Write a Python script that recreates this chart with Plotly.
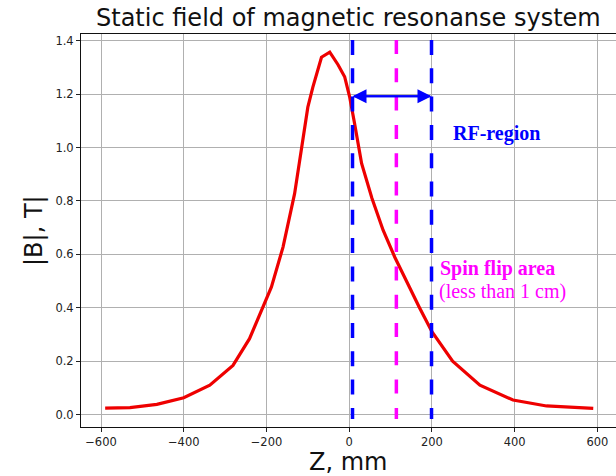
import plotly.graph_objects as go

# ---- data ----
z_mm = [-590, -530, -465, -400, -337, -281, -241, -204, -188, -160, -132, -116, -100, -88,
        -67, -47, -27, -11, 1, 13, 30, 55, 82, 110, 138, 170, 200, 250, 316, 396, 477, 590]
b_tesla = [0.024, 0.026, 0.038, 0.063, 0.11, 0.184, 0.284, 0.415, 0.478, 0.627, 0.827,
           0.989, 1.151, 1.225, 1.338, 1.357, 1.31, 1.265, 1.19, 1.09, 0.94, 0.81, 0.69, 0.59,
           0.50, 0.40, 0.31, 0.20, 0.11, 0.054, 0.032, 0.023]

rf_region = [8, 199]          # blue dashed borders, mm
spin_flip_z = [114]           # magenta dashed line, mm
arrow_level = [1.192]         # |B| level of the double arrow
vline_span = [-0.017, 1.4026]

x_ticks = [-600, -400, -200, 0, 200, 400, 600]
y_ticks = [0.0, 0.2, 0.4, 0.6, 0.8, 1.0, 1.2, 1.4]

title_text = "Static field of magnetic resonanse system"
x_label = "Z, mm"
y_label = "|B|, T|"

# plot area in pixels: left 81, right 616, top 34, bottom 427
def py(p):
    return (427 - p) / 393.0

def px(p):
    return (p - 81) / 535.0

fig = go.Figure()
fig.add_trace(go.Scatter(x=z_mm, y=b_tesla, mode="lines",
                         line=dict(color="#ee0000", width=3.2), showlegend=False,
                         hoverinfo="skip"))

# vertical dashed lines
for zx in rf_region:
    fig.add_shape(type="line", xref="x", yref="y", x0=zx, x1=zx,
                  y0=vline_span[1], y1=vline_span[0],
                  line=dict(color="#0000ff", width=3.5, dash="15px,13.3px"))
for zx in spin_flip_z:
    fig.add_shape(type="line", xref="x", yref="y", x0=zx, x1=zx,
                  y0=vline_span[1], y1=vline_span[0],
                  line=dict(color="#ff00ff", width=3.5, dash="14px,14.3px"))

# double arrow
for a, b in [(rf_region[0], rf_region[1]), (rf_region[1], rf_region[0])]:
    fig.add_annotation(x=b, y=arrow_level[0], ax=a, ay=arrow_level[0],
                       xref="x", yref="y", axref="x", ayref="y", text="", showarrow=True,
                       arrowhead=2, arrowsize=1.4, arrowwidth=2, arrowcolor="#0000ff",
                       standoff=0, startstandoff=0)

serif = "Liberation Serif, Times New Roman, serif"
fig.add_annotation(x=356, y=1.054, xref="x", yref="y", text="<b>RF-region</b>",
                   showarrow=False, font=dict(family=serif, size=20, color="#0000ff"),
                   xanchor="center", yanchor="middle")
fig.add_annotation(x=214, y=0.548, xref="x", yref="y", text="<b>Spin flip area</b>",
                   showarrow=False, font=dict(family=serif, size=20, color="#ff00ff"),
                   xanchor="left", yanchor="middle")
fig.add_annotation(x=212, y=0.461, xref="x", yref="y", text="(less than 1 cm)",
                   showarrow=False, font=dict(family=serif, size=20, color="#ff00ff"),
                   xanchor="left", yanchor="middle")

sans = "DejaVu Sans"
# title and axis labels
fig.add_annotation(x=0.5, y=py(18), xref="paper", yref="paper", text=title_text,
                   showarrow=False, font=dict(family=sans, size=24, color="#111"),
                   xanchor="center", yanchor="middle")
fig.add_annotation(x=px(348), y=py(462), xref="paper", yref="paper", text=x_label,
                   showarrow=False, font=dict(family=sans, size=24, color="#111"),
                   xanchor="center", yanchor="middle")
fig.add_annotation(x=px(34), y=py(231), xref="paper", yref="paper",
                   text=y_label, textangle=-90, showarrow=False,
                   font=dict(family=sans, size=24, color="#111"),
                   xanchor="center", yanchor="middle")

fig.update_layout(
    width=616, height=476,
    margin=dict(l=81, r=0, t=34, b=49),
    paper_bgcolor="white", plot_bgcolor="white",
    font=dict(family=sans, size=11.5, color="#222"),
)
fig.update_xaxes(range=[-648.4, 645], tickvals=x_ticks, ticks="outside", ticklen=4,
                 tickcolor="#222", showline=True, linecolor="#111", linewidth=1, mirror=True,
                 showgrid=True, gridcolor="#b0b0b0", gridwidth=0.8, zeroline=False)
fig.update_yaxes(range=[-0.0468, 1.425], tickvals=y_ticks, tickformat=".1f", ticks="outside",
                 ticklen=4, tickcolor="#222", showline=True, linecolor="#111", linewidth=1,
                 mirror=False, showgrid=True, gridcolor="#b0b0b0", gridwidth=0.8,
                 zeroline=False)

fig.write_html("out.html")
